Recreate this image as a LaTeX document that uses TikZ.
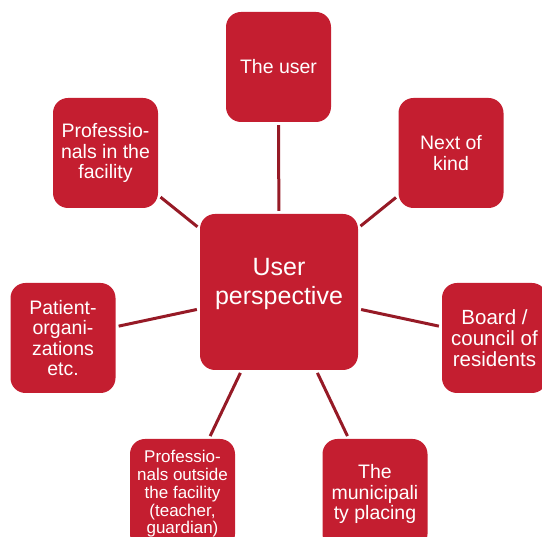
\documentclass[tikz,border=0pt]{standalone}
\usepackage{fontspec}
\setmainfont{Liberation Sans}
\definecolor{boxred}{RGB}{196,30,48}
\definecolor{linkred}{RGB}{150,26,38}
\begin{document}
\begin{tikzpicture}[
			x=1pt, y=-1pt,
			actor/.style={rectangle, rounded corners=15pt, fill=boxred, text=white, minimum width=105pt, minimum height=110pt, align=center, inner sep=2pt, font=\fontsize{19.5}{20.5}\selectfont},
			link/.style={linkred, line width=3pt, shorten <=3pt, shorten >=3pt}
		]
		\clip (0,0) rectangle (542,537);

		% Centro
		\node[actor, minimum width=158pt, minimum height=156pt, font=\fontsize{25}{29}\selectfont] (perspective) at (279, 292) {User\\perspective\\[-7pt]};

		% Attori intorno
		\node[actor] (user) at (278.5, 67) {The user};
		\node[actor] (facility) at (105.5, 153) {Professio-\\nals in the\\facility};
		\node[actor] (kin) at (451, 153) {Next of\\kind};
		\node[actor] (patient) at (63, 338) {Patient-\\organi-\\zations\\etc.};
		\node[actor, font=\fontsize{20.5}{21}\selectfont] (board) at (494.5, 338) {Board /\\council of\\residents};
		\node[actor, font=\fontsize{17}{17.8}\selectfont] (outside) at (182.5, 494) {Professio-\\nals outside\\the facility\\(teacher,\\guardian)};
		\node[actor] (municipality) at (375, 494) {The\\municipali\\ty placing};

		% Collegamenti
		\draw[link] (user) -- (perspective);
		\draw[link] (facility) -- (perspective);
		\draw[link] (kin) -- (perspective);
		\draw[link] (patient) -- (perspective);
		\draw[link] (board) -- (perspective);
		\draw[link] (outside) -- (perspective);
		\draw[link] (municipality) -- (perspective);

	\end{tikzpicture}
\end{document}
